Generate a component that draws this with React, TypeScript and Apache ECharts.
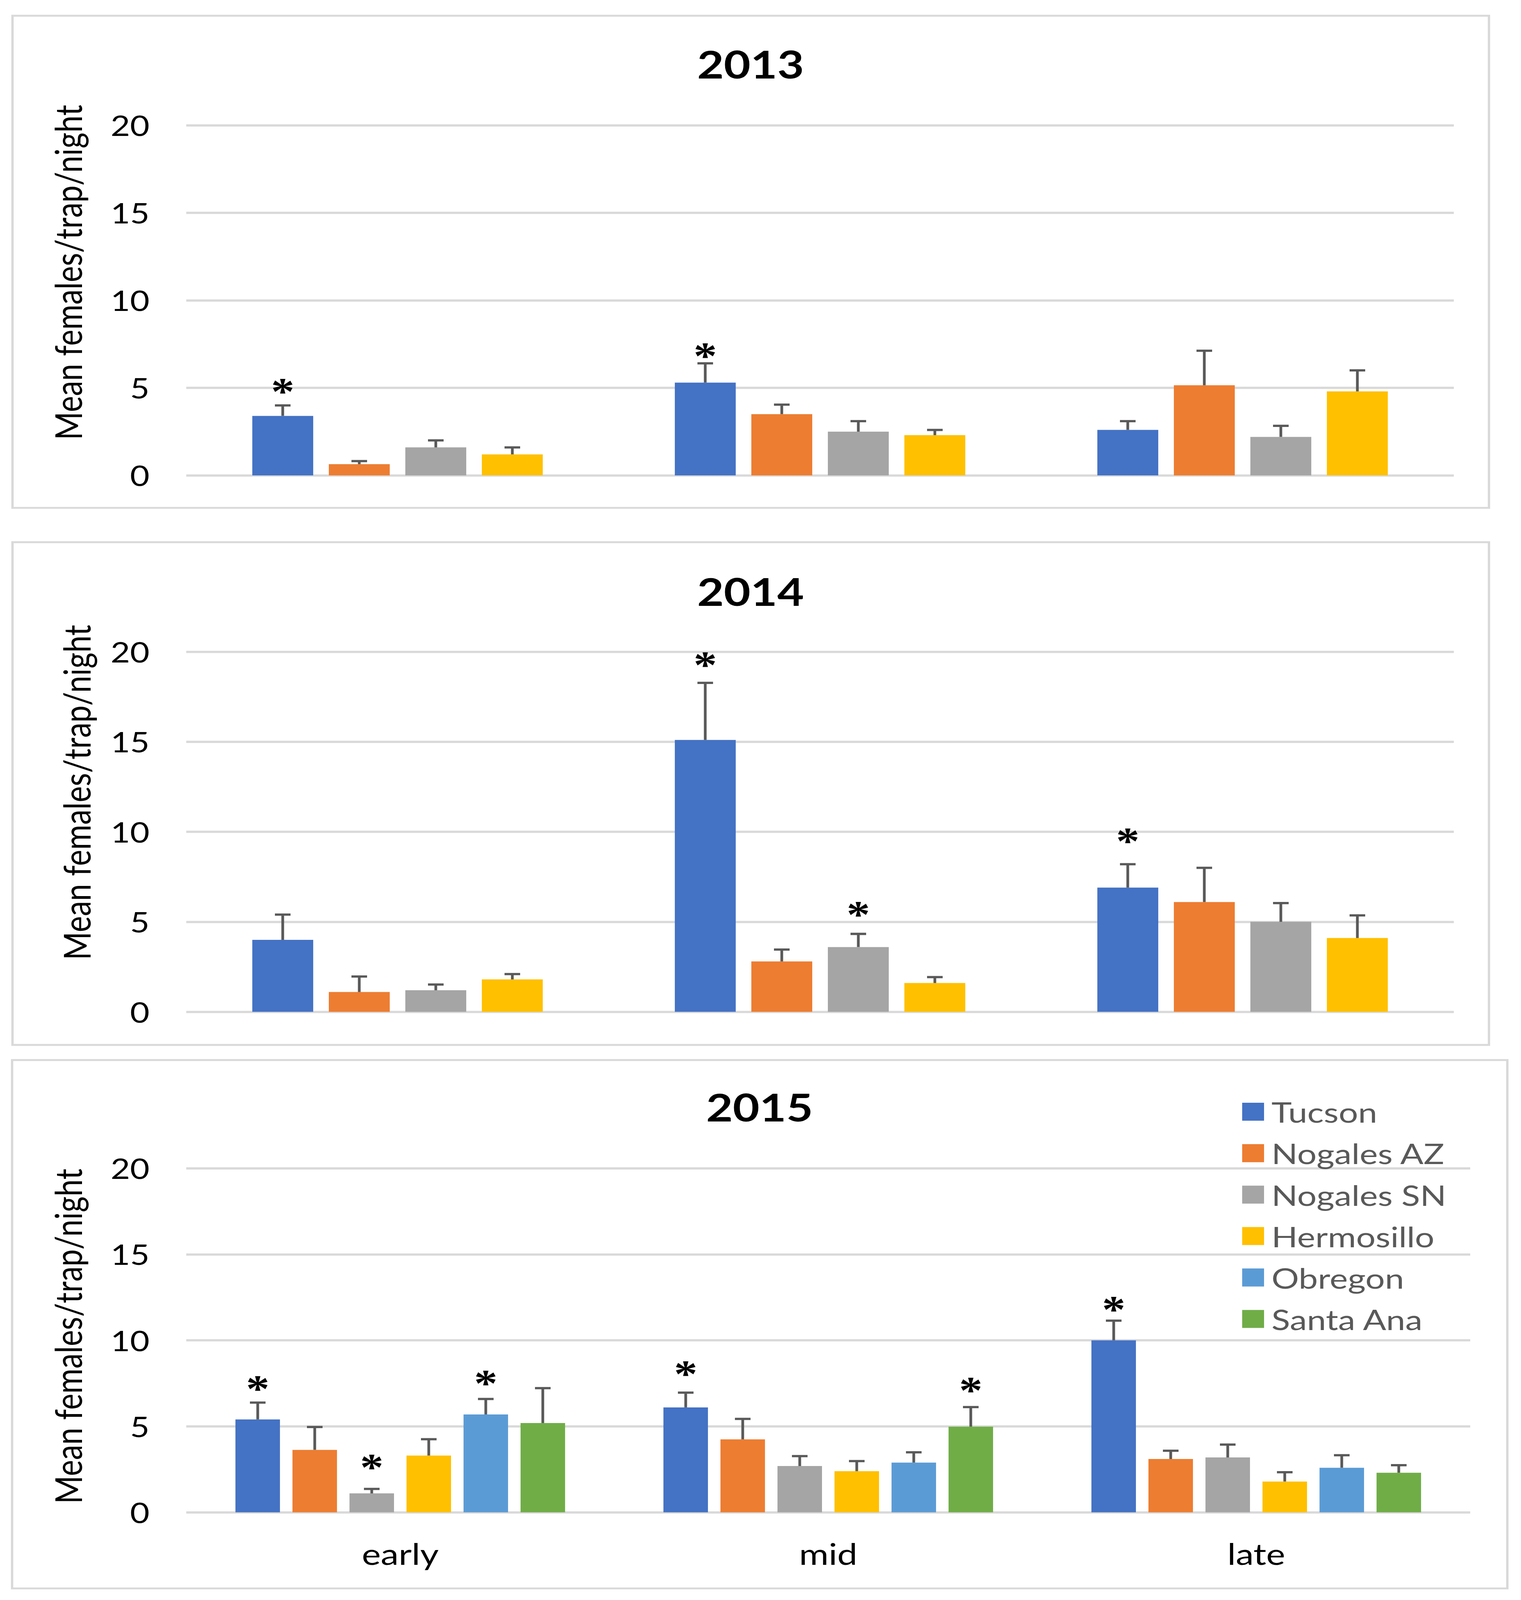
import React, { useEffect, useRef } from "react";
import * as echarts from "echarts";

const CATEGORIES = ["early", "mid", "late"];
const SITES = ["Tucson", "Nogales AZ", "Nogales SN", "Hermosillo", "Obregon", "Santa Ana"];
const COLORS = ["#4472C4", "#ED7D31", "#A5A5A5", "#FFC000", "#5B9BD5", "#70AD47"];
const YEARS = ["2013", "2014", "2015"];
const Y_TICKS_MAX = 20;
const Y_TICK_STEP = 5;
const Y_TITLE = "Mean females/trap/night";

// rows = sites, cols = early/mid/late
const MEANS_2013 = [
  [3.4, 5.3, 2.6],
  [0.64, 3.5, 5.15],
  [1.6, 2.5, 2.2],
  [1.2, 2.3, 4.8],
];
const SE_2013 = [
  [0.6, 1.1, 0.5],
  [0.18, 0.54, 1.97],
  [0.4, 0.6, 0.63],
  [0.4, 0.3, 1.2],
];
const STARS_2013 = [
  [5.1, 7.12, null],
  [null, null, null],
  [null, null, null],
  [null, null, null],
];

const MEANS_2014 = [
  [4.0, 15.1, 6.9],
  [1.1, 2.8, 6.1],
  [1.2, 3.6, 5.0],
  [1.8, 1.6, 4.1],
];
const SE_2014 = [
  [1.4, 3.17, 1.3],
  [0.86, 0.66, 1.9],
  [0.32, 0.73, 1.04],
  [0.3, 0.33, 1.26],
];
const STARS_2014 = [
  [null, 19.57, 9.77],
  [null, null, null],
  [null, 5.7, null],
  [null, null, null],
];

const MEANS_2015 = [
  [5.4, 6.1, 10.0],
  [3.63, 4.24, 3.1],
  [1.1, 2.69, 3.19],
  [3.3, 2.39, 1.79],
  [5.69, 2.89, 2.59],
  [5.19, 4.98, 2.3],
];
const SE_2015 = [
  [0.98, 0.86, 1.14],
  [1.33, 1.19, 0.48],
  [0.26, 0.58, 0.75],
  [0.95, 0.59, 0.54],
  [0.9, 0.6, 0.73],
  [2.03, 1.14, 0.44],
];
const STARS_2015 = [
  [7.5, 8.36, 12.1],
  [null, null, null],
  [2.93, null, null],
  [null, null, null],
  [7.82, null, null],
  [null, 7.41, null],
];

const FONT = "Lato";
const W = 3895;
const H = 4981;

type Panel = {
  year: string;
  means: number[][];
  se: number[][];
  stars: (number | null)[][];
  grid: { left: number; top: number; width: number; height: number };
  box: { x: number; y: number; width: number; height: number };
  barW: number;
  gap: number;
  showX: boolean;
  titleX: number;
  titleY: number;
  yTitleX: number;
  yTitleY: number;
};

const PANELS: Panel[] = [
  {
    year: YEARS[0], means: MEANS_2013, se: SE_2013, stars: STARS_2013,
    grid: { left: 477, top: 390, width: 3246, height: 1090 },
    box: { x: 32, y: 49, width: 3781, height: 1532 },
    barW: 156, gap: 40, showX: false,
    titleX: 1922, titleY: 199, yTitleX: 173, yTitleY: 848,
  },
  {
    year: YEARS[1], means: MEANS_2014, se: SE_2014, stars: STARS_2014,
    grid: { left: 477, top: 2029, width: 3246, height: 1121 },
    box: { x: 32, y: 1688, width: 3781, height: 1565 },
    barW: 156, gap: 40, showX: false,
    titleX: 1922, titleY: 1840, yTitleX: 195, yTitleY: 2467,
  },
  {
    year: YEARS[2], means: MEANS_2015, se: SE_2015, stars: STARS_2015,
    grid: { left: 477, top: 3637, width: 3288, height: 1071 },
    box: { x: 31, y: 3300, width: 3829, height: 1645 },
    barW: 114, gap: 32, showX: true,
    titleX: 1945, titleY: 3446, yTitleX: 173, yTitleY: 4160,
  },
];

function buildOption() {
  const grids: any[] = [];
  const xAxes: any[] = [];
  const yAxes: any[] = [];
  const series: any[] = [];
  const graphics: any[] = [];

  PANELS.forEach((p, pi) => {
    grids.push({ ...p.grid, containLabel: false });
    xAxes.push({
      type: "category",
      gridIndex: pi,
      data: CATEGORIES,
      axisLine: { show: false },
      axisTick: { show: false },
      axisLabel: {
        show: p.showX,
        fontFamily: FONT,
        fontSize: 92,
        color: "#000",
        margin: 82,
      },
      splitLine: { show: false },
    });
    yAxes.push({
      type: "value",
      gridIndex: pi,
      min: 0,
      max: Y_TICKS_MAX,
      interval: Y_TICK_STEP,
      axisLine: { show: false },
      axisTick: { show: false },
      axisLabel: { fontFamily: FONT, fontSize: 86, color: "#000", margin: 94 },
      splitLine: { show: true, lineStyle: { color: "#D9D9D9", width: 7 } },
    });

    const n = p.means.length;
    const gapPct = ((p.gap / p.barW) * 100).toFixed(1) + "%";
    p.means.forEach((vals, s) => {
      series.push({
        name: SITES[s],
        type: "bar",
        xAxisIndex: pi,
        yAxisIndex: pi,
        data: vals,
        barWidth: p.barW,
        barGap: gapPct,
        itemStyle: { color: COLORS[s] },
        emphasis: { disabled: true },
        z: 2,
      });
      const offset = (s - (n - 1) / 2) * (p.barW + p.gap);
      const stars = p.stars[s];
      series.push({
        type: "custom",
        xAxisIndex: pi,
        yAxisIndex: pi,
        silent: true,
        z: 3,
        encode: { x: 0, y: [1, 2] },
        data: vals.map((v, i) => [i, v, v + p.se[s][i]]),
        renderItem: (params: any, api: any) => {
          const i = api.value(0);
          const v = api.value(1);
          const t = api.value(2);
          const c = api.coord([i, v]);
          const ct = api.coord([i, t]);
          const x = c[0] + offset;
          const children: any[] = [
            {
              type: "line",
              shape: { x1: x, y1: c[1], x2: x, y2: ct[1] },
              style: { stroke: "#595959", lineWidth: 7 },
            },
            {
              type: "line",
              shape: { x1: x - 20, y1: ct[1], x2: x + 20, y2: ct[1] },
              style: { stroke: "#595959", lineWidth: 7 },
            },
          ];
          const star = stars[params.dataIndex];
          if (star !== null && star !== undefined) {
            const cs = api.coord([i, star]);
            children.push({
              type: "text",
              x: x,
              y: cs[1] + 16,
              style: {
                text: "*",
                fontFamily: "Liberation Serif",
                fontWeight: "bold",
                fontSize: 120,
                fill: "#000",
                align: "center",
                verticalAlign: "middle",
              },
            });
          }
          return { type: "group", children };
        },
      });
    });

    graphics.push({
      type: "rect",
      shape: { ...p.box },
      style: { fill: "none", stroke: "#D9D9D9", lineWidth: 6 },
      z: 0,
      silent: true,
    });
    graphics.push({
      type: "text",
      x: p.titleX,
      y: p.titleY,
      style: {
        text: p.year,
        fontFamily: FONT,
        fontWeight: "bold",
        fontSize: 118,
        fill: "#000",
        align: "center",
        verticalAlign: "middle",
      },
      silent: true,
    });
    graphics.push({
      type: "text",
      x: p.yTitleX,
      y: p.yTitleY,
      rotation: Math.PI / 2,
      style: {
        text: Y_TITLE,
        fontFamily: FONT,
        fontSize: 95,
        fill: "#000",
        align: "center",
        verticalAlign: "middle",
      },
      silent: true,
    });
  });

  return {
    animation: false,
    backgroundColor: "#fff",
    grid: grids,
    xAxis: xAxes,
    yAxis: yAxes,
    series,
    graphic: graphics,
    legend: {
      orient: "vertical",
      left: 3176,
      top: 3412,
      itemWidth: 56,
      itemHeight: 56,
      itemGap: 41,
      icon: "rect",
      selectedMode: false,
      data: SITES,
      textStyle: {
        fontFamily: FONT,
        fontSize: 88,
        color: "#595959",
        padding: [0, 0, 0, 14],
      },
    },
  };
}

export default function App() {
  const ref = useRef<HTMLDivElement>(null);
  // The browser viewport may be shorter than the requested page height;
  // scale the whole figure vertically so that it fits in what is photographed.
  const vh = typeof window !== "undefined" ? window.innerHeight : H;
  const sy = Math.min(1, vh / H);
  useEffect(() => {
    document.body.style.margin = "0";
    document.body.style.overflow = "hidden";
    if (!ref.current) return;
    const chart = echarts.init(ref.current, null, { renderer: "svg" });
    chart.setOption(buildOption() as any);
    return () => chart.dispose();
  }, []);
  return (
    <div style={{ width: W, height: Math.round(H * sy), overflow: "hidden" }}>
      <div
        ref={ref}
        style={{
          width: W,
          height: H,
          background: "#fff",
          transform: `scale(1, ${sy})`,
          transformOrigin: "0 0",
        }}
      />
    </div>
  );
}
